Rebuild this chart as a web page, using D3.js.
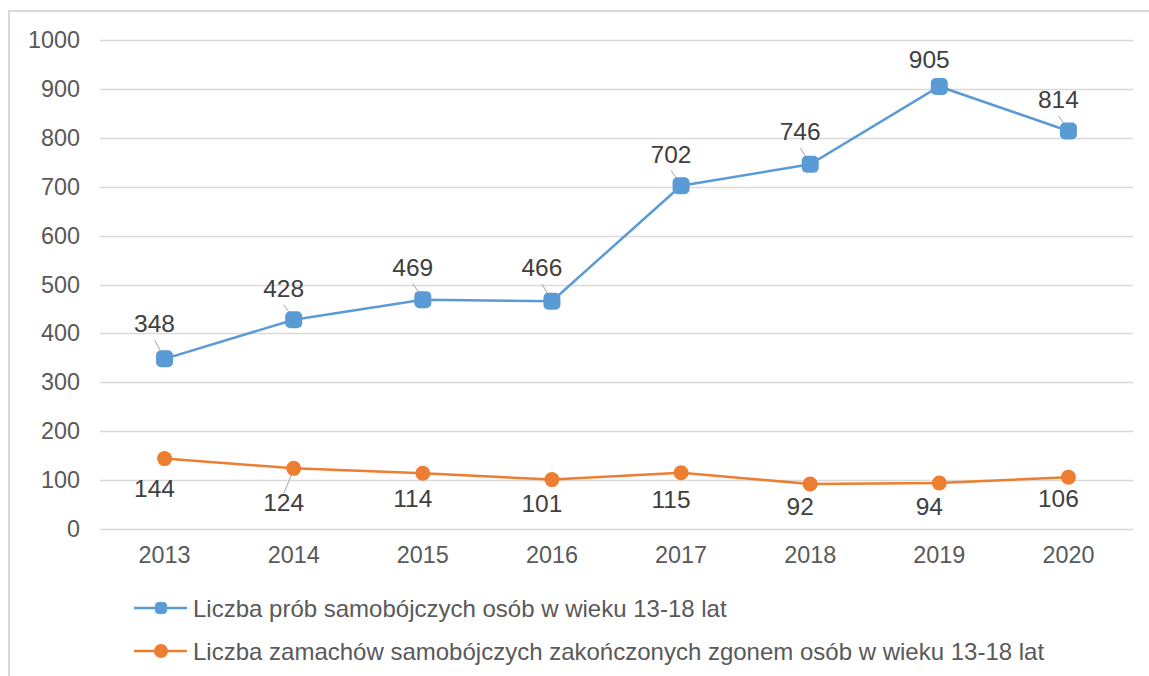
<!DOCTYPE html>
<html>
<head>
<meta charset="utf-8">
<script src="https://cdn.jsdelivr.net/npm/d3@7"></script>
<style>
  body { margin: 0; background: #fff; }
  svg { font-family: "Liberation Sans", Arial, sans-serif; }
</style>
</head>
<body>
<svg id="chart"></svg>
<script>
// Data
const years = ["2013", "2014", "2015", "2016", "2017", "2018", "2019", "2020"];
const attempts = [348, 428, 469, 466, 702, 746, 905, 814];
const deaths = [144, 124, 114, 101, 115, 92, 94, 106];
const yTicks = [0, 100, 200, 300, 400, 500, 600, 700, 800, 900, 1000];
const seriesNames = [
  "Liczba prób samobójczych osób w wieku 13-18 lat",
  "Liczba zamachów samobójczych zakończonych zgonem osób w wieku 13-18 lat",
];

// label placement tweaks (dy of baseline relative to point) + leader flags
const attemptsLabelDy = [-27, -23, -24, -25, -23, -24, -18, -23];
const attemptsLeader = [true, true, true, true, true, true, false, true];
const deathsLabelDy = [38, 43, 34, 32, 35, 31, 32, 30];
const deathsLeader = [false, true, false, false, false, false, false, false];

const W = 1149, H = 676;
const blue = "#5B9BD5", orange = "#ED7D31";

const svg = d3.select("#chart").attr("width", W).attr("height", H);

// outer frame (top and left edges visible)
svg.append("path")
  .attr("d", `M9,${H} L9,11 L${W},11`)
  .attr("fill", "none")
  .attr("stroke", "#d9d9d9")
  .attr("stroke-width", 2);

const x = d3.scaleBand().domain(years).range([100, 1133]).padding(0);
const y = d3.scaleLinear().domain([0, 1000]).range([529, 40]);
const cx = (d) => x(d) + x.bandwidth() / 2;

// gridlines
svg.append("g")
  .selectAll("line")
  .data(yTicks)
  .enter()
  .append("line")
  .attr("x1", 100)
  .attr("x2", 1133)
  .attr("y1", (d) => Math.round(y(d)) + 0.5)
  .attr("y2", (d) => Math.round(y(d)) + 0.5)
  .attr("stroke", "#d9d9d9")
  .attr("stroke-width", 1.3);

// y axis labels
const yAxis = svg.append("g")
  .attr("transform", "translate(80,0)")
  .call(d3.axisLeft(y).tickValues(yTicks).tickFormat(d3.format("d")).tickSize(0).tickPadding(0));
yAxis.select(".domain").remove();
yAxis.selectAll("text")
  .attr("font-size", 23.4)
  .attr("fill", "#595959")
  .attr("font-family", "Liberation Sans, Arial, sans-serif");

// x axis labels
const xAxis = svg.append("g")
  .attr("transform", "translate(0,546)")
  .call(d3.axisBottom(x).tickSize(0).tickPadding(0));
xAxis.select(".domain").remove();
xAxis.selectAll("text")
  .attr("font-size", 23.4)
  .attr("fill", "#595959")
  .attr("font-family", "Liberation Sans, Arial, sans-serif");

const line = d3.line()
  .x((d, i) => cx(years[i]))
  .y((d) => y(d));

// death series
svg.append("path")
  .datum(deaths)
  .attr("fill", "none")
  .attr("stroke", orange)
  .attr("stroke-width", 2.5)
  .attr("d", line);

// attempts series
svg.append("path")
  .datum(attempts)
  .attr("fill", "none")
  .attr("stroke", blue)
  .attr("stroke-width", 2.5)
  .attr("d", line);

// leader lines
function leaders(values, dys, flags, below) {
  svg.append("g")
    .selectAll("line")
    .data(d3.range(values.length).filter((i) => flags[i]))
    .enter()
    .append("line")
    .attr("x1", (i) => cx(years[i]) - 10)
    .attr("y1", (i) => y(values[i]) + dys[i] + (below ? -18 : 8))
    .attr("x2", (i) => cx(years[i]) - 2)
    .attr("y2", (i) => y(values[i]) + (below ? 6 : -4))
    .attr("stroke", "#a6a6a6")
    .attr("stroke-width", 1);
}
leaders(attempts, attemptsLabelDy, attemptsLeader, false);
leaders(deaths, deathsLabelDy, deathsLeader, true);

// markers
svg.append("g")
  .selectAll("circle")
  .data(deaths)
  .enter()
  .append("circle")
  .attr("cx", (d, i) => cx(years[i]))
  .attr("cy", (d) => y(d))
  .attr("r", 7.5)
  .attr("fill", orange);

svg.append("g")
  .selectAll("rect")
  .data(attempts)
  .enter()
  .append("rect")
  .attr("x", (d, i) => cx(years[i]) - 8.5)
  .attr("y", (d) => y(d) - 8.5)
  .attr("width", 17)
  .attr("height", 17)
  .attr("rx", 5)
  .attr("fill", blue);

// data labels
function labels(values, dys) {
  svg.append("g")
    .selectAll("text")
    .data(values)
    .enter()
    .append("text")
    .attr("x", (d, i) => cx(years[i]) - 10)
    .attr("y", (d, i) => y(d) + dys[i])
    .attr("text-anchor", "middle")
    .attr("font-size", 24.5)
    .attr("fill", "#404040")
    .text((d) => d);
}
labels(attempts, attemptsLabelDy);
labels(deaths, deathsLabelDy);

// legend
const legend = svg.append("g");
[blue, orange].forEach((c, i) => {
  const ly = 608 + i * 43;
  legend.append("line")
    .attr("x1", 134).attr("x2", 187)
    .attr("y1", ly).attr("y2", ly)
    .attr("stroke", c).attr("stroke-width", 2.5);
  if (i === 0) {
    legend.append("rect")
      .attr("x", 155).attr("y", ly - 6)
      .attr("width", 12).attr("height", 12)
      .attr("rx", 4).attr("fill", c);
  } else {
    legend.append("circle")
      .attr("cx", 161).attr("cy", ly).attr("r", 7).attr("fill", c);
  }
  legend.append("text")
    .attr("x", 193)
    .attr("y", ly + 8.5)
    .attr("font-size", 24)
    .attr("fill", "#595959")
    .text(seriesNames[i]);
});
</script>
</body>
</html>
